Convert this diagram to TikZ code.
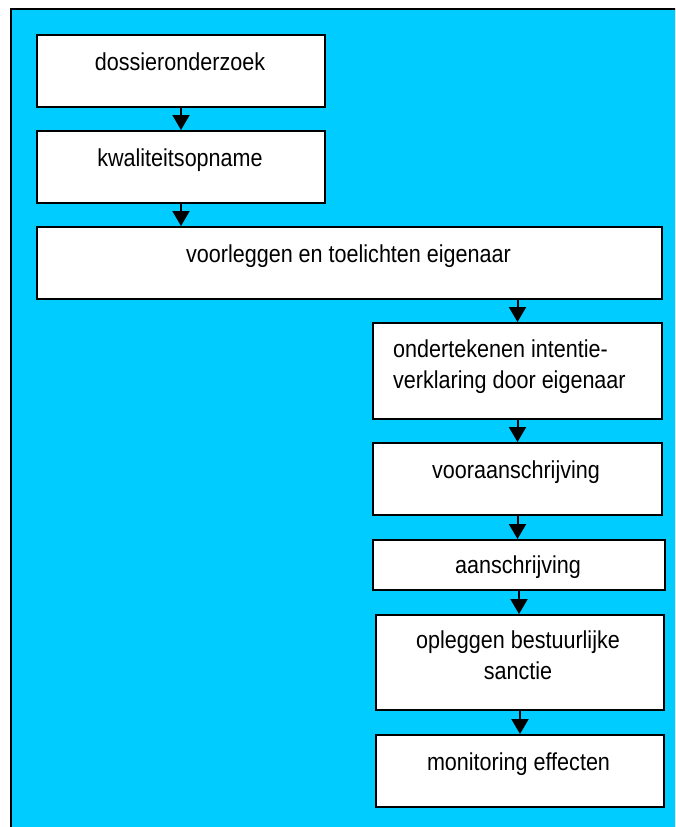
\documentclass[tikz,border=0pt]{standalone}
\usepackage{fontspec}
\setmainfont{Liberation Sans}[FakeStretch=0.88]
\usetikzlibrary{arrows.meta}
\definecolor{bg}{HTML}{00CCFF}
\begin{document}
\begin{tikzpicture}[x=1pt,y=-1pt,
  box/.style={draw=black, line width=2pt, fill=white, inner sep=0pt, anchor=north west},
  txt/.style={font=\fontsize{24.5}{31}\selectfont, inner sep=0pt, anchor=base},
  arr/.style={line width=2pt, -{Triangle[length=15pt,width=17pt]}}]
\useasboundingbox (0,0) rectangle (675,827);
\clip (0,0) rectangle (675,827);
\draw[fill=bg, line width=2pt] (11,9) rectangle (700,850);
% boxes
\node[box, minimum width=288pt, minimum height=72pt] (b1) at (36,34) {};
\node[box, minimum width=288pt, minimum height=72pt] (b2) at (36,130) {};
\node[box, minimum width=625pt, minimum height=72pt] (b3) at (36,226) {};
\node[box, minimum width=289pt, minimum height=96pt] (b4) at (372,322) {};
\node[box, minimum width=289pt, minimum height=72pt] (b5) at (372,442) {};
\node[box, minimum width=292pt, minimum height=50pt] (b6) at (372,539) {};
\node[box, minimum width=288pt, minimum height=95pt] (b7) at (375,614) {};
\node[box, minimum width=288pt, minimum height=72pt] (b8) at (375,734) {};
% texts
\node[txt] (t1) at (180,70) {dossieronderzoek};
\node[txt] (t2) at (180,166) {kwaliteitsopname};
\node[txt] (t3) at (348.5,262) {voorleggen en toelichten eigenaar};
\node[txt, anchor=base west, align=left] (t4) at (393,388) {ondertekenen intentie-\\verklaring door eigenaar};
\node[txt] (t5) at (516,478) {vooraanschrijving};
\node[txt] (t6) at (518,573) {aanschrijving};
\node[txt, align=center] (t7) at (518,679) {opleggen bestuurlijke\\sanctie};
\node[txt] (t8) at (518.5,770) {monitoring effecten};
% arrows
\draw[arr] (b1.south) -- (b2.north);
\draw[arr] (b2.south) -- (b2.south |- b3.north);
\draw[arr] (b4.north |- b3.south) -- (b4.north);
\draw[arr] (b4.south) -- (b5.north);
\draw[arr] (b5.south) -- (b5.south |- b6.north);
\draw[arr] (b6.south) -- (b6.south |- b7.north);
\draw[arr] (b8.north |- b7.south) -- (b8.north);
\end{tikzpicture}
\end{document}
